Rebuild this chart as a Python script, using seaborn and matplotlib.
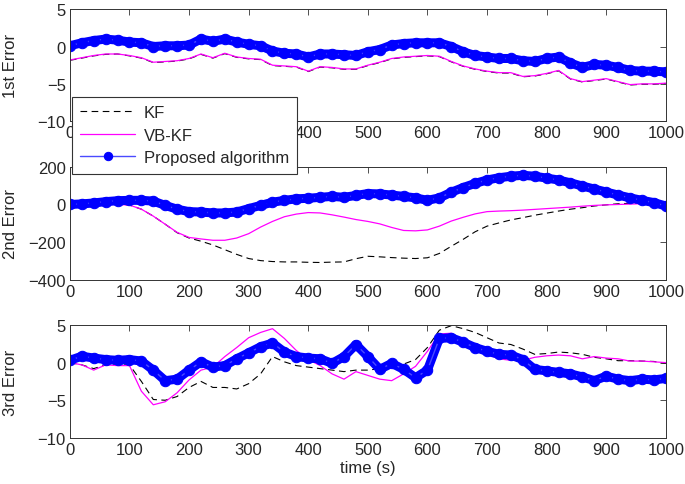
import numpy as np
import pandas as pd
import matplotlib
matplotlib.use('Agg')
import matplotlib.pyplot as plt
import seaborn as sns

# time axis (s), one reading every 20 s
time_s = np.arange(0, 1001, 20)

# --- 1st state error ---
kf_1 = [-1.85, -1.55, -1.25, -1.05, -1.0, -1.25, -1.55, -2.15, -2.05, -1.95, -1.65,
        -1.05, -1.55, -0.95, -1.45, -1.65, -1.75, -2.55, -2.65, -2.75, -3.35, -2.75,
        -2.85, -3.05, -3.05, -2.55, -2.15, -1.65, -1.45, -1.35, -1.25, -1.35, -2.05,
        -2.65, -3.05, -3.35, -3.55, -3.55, -4.05, -3.95, -3.65, -3.25, -4.35, -4.75,
        -4.55, -4.35, -4.75, -5.15, -5.05, -5.05, -4.95]
vbkf_1 = [-1.8, -1.5, -1.2, -1.0, -1.0, -1.2, -1.5, -2.1, -2.0, -1.9, -1.6,
          -1.0, -1.5, -0.9, -1.4, -1.6, -1.7, -2.5, -2.6, -2.7, -3.3, -2.7,
          -2.8, -3.0, -3.0, -2.5, -2.1, -1.6, -1.4, -1.3, -1.2, -1.3, -2.0,
          -2.6, -3.0, -3.3, -3.5, -3.5, -4.0, -3.9, -3.6, -3.2, -4.3, -4.7,
          -4.5, -4.3, -4.7, -5.1, -5.0, -5.0, -4.9]
prop_1 = [0.1, 0.5, 0.8, 1.0, 0.85, 0.6, 0.5, 0.0, 0.1, 0.1, 0.2,
          1.0, 0.7, 1.0, 0.6, 0.3, 0.1, -0.6, -0.9, -1.0, -1.4, -1.0,
          -1.0, -1.1, -1.2, -0.7, -0.4, 0.2, 0.4, 0.5, 0.5, 0.5, 0.0,
          -0.7, -1.2, -1.4, -1.6, -1.6, -1.9, -2.0, -1.6, -1.4, -2.2, -2.8,
          -2.4, -2.5, -2.8, -3.2, -3.3, -3.3, -3.4]

# --- 2nd state error ---
kf_2 = [0, 0, 0, 0, 0, -3, -25, -62, -105, -150, -178,
        -195, -215, -240, -265, -287, -298, -303, -305, -305, -307, -308,
        -306, -305, -288, -275, -278, -282, -285, -287, -283, -260, -222,
        -185, -145, -115, -98, -82, -70, -57, -46, -35, -25, -17,
        -8, -2, 4, 6, 6, 6, 5]
vbkf_2 = [0, 0, 0, 0, 0, -3, -25, -62, -105, -148, -175,
          -183, -190, -190, -178, -155, -120, -90, -65, -51, -43, -45,
          -55, -67, -80, -90, -103, -122, -138, -140, -135, -115, -88,
          -68, -50, -38, -35, -33, -30, -26, -22, -18, -14, -9,
          -5, -2, 0, 2, 4, 4, 2]
prop_2 = [0, 3, 8, 15, 20, 22, 22, 18, -5, -25, -38,
          -40, -45, -45, -40, -22, -5, 12, 22, 30, 33, 38,
          43, 38, 48, 58, 56, 50, 43, 35, 22, 35, 65,
          90, 112, 130, 142, 150, 155, 150, 140, 130, 115, 98,
          82, 66, 50, 35, 22, 10, -8]

# --- 3rd state error ---
kf_3 = [0.0, -0.3, -0.8, -0.3, -0.3, -0.3, -2.5, -4.9, -5.0, -4.5, -3.3,
        -2.5, -3.3, -3.3, -3.5, -2.8, -1.5, 0.8, 0.1, -0.4, -0.6, -0.8,
        -1.0, -1.2, -1.0, -1.0, -0.8, -0.5, -0.2, 0.4, 2.0, 4.3, 4.9,
        4.5, 4.0, 3.3, 2.6, 2.4, 1.8, 1.1, 1.2, 1.4, 1.3, 1.1,
        0.7, 0.5, 0.25, 0.25, 0.2, 0.15, -0.1]
vbkf_3 = [0.0, -0.3, -1.0, -0.3, -0.4, -0.4, -3.8, -5.6, -5.2, -4.0, -2.3,
          -1.0, -0.6, 0.8, 2.0, 3.3, 4.0, 4.5, 3.2, 1.6, 0.4, -0.4,
          -1.5, -2.2, -1.2, -1.7, -2.2, -2.4, -1.5, -0.5, 1.5, 3.8, 3.9,
          2.8, 1.7, 1.1, 0.5, 0.3, 0.3, 0.7, 0.9, 1.0, 0.9, 0.5,
          0.8, 0.6, 0.5, 0.2, 0.2, 0.1, 0.0]
prop_3 = [0.3, 0.85, 0.6, 0.4, 0.3, 0.4, 0.2, -1.0, -2.4, -2.2, -1.0,
          0.1, -0.6, -0.4, 0.5, 1.3, 2.1, 2.6, 1.4, 0.8, 0.6, 0.5,
          -0.1, 0.8, 2.4, 0.8, -0.9, -0.1, -0.9, -2.0, -1.0, 3.2, 3.3,
          2.7, 2.0, 1.5, 1.1, 1.0, 0.4, -0.9, -1.1, -1.3, -1.5, -1.9,
          -2.4, -1.8, -2.2, -2.4, -2.2, -2.3, -2.1]

y_labels = ['1st Error', '2nd Error', '3rd Error']
y_limits = [(-10, 5), (-400, 200), (-10, 5)]
y_ticks = [[-10, -5, 0, 5], [-400, -200, 0, 200], [-10, -5, 0, 5]]
x_ticks = list(range(0, 1001, 100))

sns.set_theme(style='white')
plt.rcParams['font.family'] = ['Liberation Sans', 'DejaVu Sans']
plt.rcParams['font.size'] = 12

fig = plt.figure(figsize=(6.85, 4.85), dpi=100)
boxes = [[0.102, 0.748, 0.870, 0.231],
         [0.102, 0.421, 0.870, 0.233],
         [0.102, 0.095, 0.870, 0.233]]

series = [(kf_1, vbkf_1, prop_1), (kf_2, vbkf_2, prop_2), (kf_3, vbkf_3, prop_3)]
axes = []
for i, (kf, vb, prop) in enumerate(series):
    ax = fig.add_axes(boxes[i])
    df = pd.DataFrame({'t': time_s, 'KF': kf, 'VB': vb, 'P': prop})
    sns.lineplot(data=df, x='t', y='KF', ax=ax, color='black', linestyle=(0, (6, 4)),
                 linewidth=0.8, label='KF', legend=False)
    sns.lineplot(data=df, x='t', y='VB', ax=ax, color='#ff00ff', linewidth=0.9,
                 label='VB-KF', legend=False)
    # thick underlay gives the dense marker band of the original
    sns.lineplot(data=df, x='t', y='P', ax=ax, color='#0000ff', linewidth=6.5,
                 legend=False, solid_capstyle='round')
    sns.lineplot(data=df, x='t', y='P', ax=ax, color='#4a4aff', linewidth=1,
                 marker='o', markersize=7.5, markerfacecolor='#0000ff',
                 markeredgecolor='#0000ff', label='Proposed algorithm', legend=False)
    ax.set_xlim(0, 1000)
    ax.set_ylim(*y_limits[i])
    ax.set_xticks(x_ticks)
    ax.set_yticks(y_ticks[i])
    ax.tick_params(axis='both', which='both', direction='in', length=4, width=0.6,
                   top=True, right=True, labelsize=12, pad=3, color='#333333')
    for sp in ax.spines.values():
        sp.set_color('#333333')
        sp.set_linewidth(0.7)
    ax.set_ylabel(y_labels[i], fontsize=12)
    ax.yaxis.set_label_coords(-0.087, 0.5)
    ax.set_xlabel('')
    axes.append(ax)

axes[2].set_xlabel('time (s)', fontsize=12, labelpad=2)

handles, labels = axes[0].get_legend_handles_labels()
leg = fig.legend(handles, labels, loc='upper left', bbox_to_anchor=(72 / 685, 1 - 98 / 485),
                 frameon=True, fancybox=False, framealpha=1, edgecolor='#333333',
                 fontsize=12, handlelength=3.3, handletextpad=0.5, labelspacing=0.45,
                 borderpad=0.5, borderaxespad=0)
leg.get_frame().set_linewidth(0.8)
for h in leg.legend_handles:
    h.set_markersize(6)

fig.savefig('out.png', dpi=100)
